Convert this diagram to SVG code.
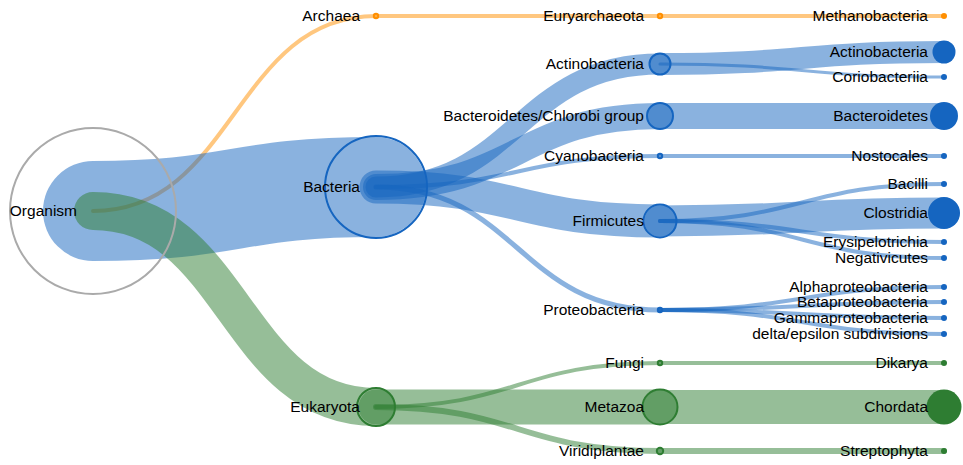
<svg xmlns="http://www.w3.org/2000/svg" width="963" height="465" viewBox="0 0 963 465">
  <style>
    .link { fill: none; stroke-opacity: 0.5; stroke-linecap: round; }
    .arch { stroke: #ff8f00; }
    .bact { stroke: #1565c0; }
    .euk { stroke: #2e7d32; }
    .inner { fill: none; stroke-width: 2; }
    .leaf.bact, .leaf.euk, .leaf.arch { stroke: none; }
    .leaf.bactf { fill: #1565c0; }
    .leaf.eukf { fill: #2e7d32; }
    .leaf.archf { fill: #ff8f00; }
    text { font-family: "Liberation Sans", Arial, Helvetica, sans-serif; font-size: 15.5px; fill: #000; text-anchor: end; }
  </style>
  <rect width="963" height="465" fill="#ffffff"/>

  <g id="links">
    <!-- root to kingdoms -->
    <path class="link arch" stroke-width="4" d="M93,211 C234.5,211 234.5,16 376,16"/>
    <path class="link bact" stroke-width="100" d="M93,211 C234.5,211 234.5,187 376,187"/>
    <path class="link euk" stroke-width="38" d="M93,211 C234.5,211 234.5,407 376,407"/>
    <!-- kingdoms to phyla -->
    <path class="link arch" stroke-width="4" d="M376,16 C518,16 518,16 660,16"/>
    <path class="link bact" stroke-width="21" d="M376,187 C518,187 518,64 660,64"/>
    <path class="link bact" stroke-width="26" d="M376,187 C518,187 518,116 660,116"/>
    <path class="link bact" stroke-width="4" d="M376,187 C518,187 518,156 660,156"/>
    <path class="link bact" stroke-width="33" d="M376,187 C518,187 518,221 660,221"/>
    <path class="link bact" stroke-width="5" d="M376,187 C518,187 518,310 660,310"/>
    <path class="link euk" stroke-width="4" d="M376,407 C518,407 518,363 660,363"/>
    <path class="link euk" stroke-width="35" d="M376,407 C518,407 518,407 660,407"/>
    <path class="link euk" stroke-width="6" d="M376,407 C518,407 518,451 660,451"/>
    <!-- phyla to classes -->
    <path class="link arch" stroke-width="4" d="M660,16 C802,16 802,16 944,16"/>
    <path class="link bact" stroke-width="22" d="M660,64 C802,64 802,52 944,52"/>
    <path class="link bact" stroke-width="3" d="M660,64 C802,64 802,77 944,77"/>
    <path class="link bact" stroke-width="26" d="M660,116 C802,116 802,116 944,116"/>
    <path class="link bact" stroke-width="4" d="M660,156 C802,156 802,156 944,156"/>
    <path class="link bact" stroke-width="4" d="M660,221 C802,221 802,184 944,184"/>
    <path class="link bact" stroke-width="31" d="M660,221 C802,221 802,213 944,213"/>
    <path class="link bact" stroke-width="4" d="M660,221 C802,221 802,242 944,242"/>
    <path class="link bact" stroke-width="4" d="M660,221 C802,221 802,258 944,258"/>
    <path class="link bact" stroke-width="4" d="M660,310 C802,310 802,287 944,287"/>
    <path class="link bact" stroke-width="4" d="M660,310 C802,310 802,302 944,302"/>
    <path class="link bact" stroke-width="4" d="M660,310 C802,310 802,318 944,318"/>
    <path class="link bact" stroke-width="4" d="M660,310 C802,310 802,334 944,334"/>
    <path class="link euk" stroke-width="4" d="M660,363 C802,363 802,363 944,363"/>
    <path class="link euk" stroke-width="34" d="M660,407 C802,407 802,407 944,407"/>
    <path class="link euk" stroke-width="6" d="M660,451 C802,451 802,451 944,451"/>
  </g>

  <g id="node-organism">
    <circle cx="93" cy="211" r="83" fill="none" stroke="#aaaaaa" stroke-width="2"/>
    <text x="77" y="211" dy="0.35em">Organism</text>
  </g>

  <g id="node-archaea">
    <circle class="inner" cx="376" cy="16" r="2.2" stroke="#ff8f00"/>
    <text x="360" y="16" dy="0.35em">Archaea</text>
  </g>
  <g id="node-euryarchaeota">
    <circle class="inner" cx="660" cy="16" r="2.2" stroke="#ff8f00"/>
    <text x="644" y="16" dy="0.35em">Euryarchaeota</text>
  </g>
  <g id="node-methanobacteria">
    <circle cx="944" cy="16" r="3" fill="#ff8f00"/>
    <text x="928" y="16" dy="0.35em">Methanobacteria</text>
  </g>

  <g id="node-bacteria">
    <circle class="inner" cx="376" cy="187" r="51" stroke="#1565c0"/>
    <text x="360" y="187" dy="0.35em">Bacteria</text>
  </g>
  <g id="node-actinobacteria-phylum">
    <circle class="inner" cx="660" cy="64" r="10.5" stroke="#1565c0"/>
    <text x="644" y="64" dy="0.35em">Actinobacteria</text>
  </g>
  <g id="node-bacteroidetes-chlorobi">
    <circle class="inner" cx="660" cy="116" r="13" stroke="#1565c0"/>
    <text x="644" y="116" dy="0.35em">Bacteroidetes/Chlorobi group</text>
  </g>
  <g id="node-cyanobacteria">
    <circle class="inner" cx="660" cy="156" r="2.2" stroke="#1565c0"/>
    <text x="644" y="156" dy="0.35em">Cyanobacteria</text>
  </g>
  <g id="node-firmicutes">
    <circle class="inner" cx="660" cy="221" r="16.5" stroke="#1565c0"/>
    <text x="644" y="221" dy="0.35em">Firmicutes</text>
  </g>
  <g id="node-proteobacteria">
    <circle class="inner" cx="660" cy="310" r="2.2" stroke="#1565c0"/>
    <text x="644" y="310" dy="0.35em">Proteobacteria</text>
  </g>

  <g id="node-actinobacteria-class">
    <circle cx="944" cy="52" r="11.5" fill="#1565c0"/>
    <text x="928" y="52" dy="0.35em">Actinobacteria</text>
  </g>
  <g id="node-coriobacteriia">
    <circle cx="944" cy="77" r="3" fill="#1565c0"/>
    <text x="928" y="77" dy="0.35em">Coriobacteriia</text>
  </g>
  <g id="node-bacteroidetes">
    <circle cx="944" cy="116" r="14" fill="#1565c0"/>
    <text x="928" y="116" dy="0.35em">Bacteroidetes</text>
  </g>
  <g id="node-nostocales">
    <circle cx="944" cy="156" r="3" fill="#1565c0"/>
    <text x="928" y="156" dy="0.35em">Nostocales</text>
  </g>
  <g id="node-bacilli">
    <circle cx="944" cy="184" r="3" fill="#1565c0"/>
    <text x="928" y="184" dy="0.35em">Bacilli</text>
  </g>
  <g id="node-clostridia">
    <circle cx="944" cy="213" r="16" fill="#1565c0"/>
    <text x="928" y="213" dy="0.35em">Clostridia</text>
  </g>
  <g id="node-erysipelotrichia">
    <circle cx="944" cy="242" r="3" fill="#1565c0"/>
    <text x="928" y="242" dy="0.35em">Erysipelotrichia</text>
  </g>
  <g id="node-negativicutes">
    <circle cx="944" cy="258" r="3" fill="#1565c0"/>
    <text x="928" y="258" dy="0.35em">Negativicutes</text>
  </g>
  <g id="node-alphaproteobacteria">
    <circle cx="944" cy="287" r="3" fill="#1565c0"/>
    <text x="928" y="287" dy="0.35em">Alphaproteobacteria</text>
  </g>
  <g id="node-betaproteobacteria">
    <circle cx="944" cy="302" r="3" fill="#1565c0"/>
    <text x="928" y="302" dy="0.35em">Betaproteobacteria</text>
  </g>
  <g id="node-gammaproteobacteria">
    <circle cx="944" cy="318" r="3" fill="#1565c0"/>
    <text x="928" y="318" dy="0.35em">Gammaproteobacteria</text>
  </g>
  <g id="node-delta-epsilon">
    <circle cx="944" cy="334" r="3" fill="#1565c0"/>
    <text x="928" y="334" dy="0.35em">delta/epsilon subdivisions</text>
  </g>

  <g id="node-eukaryota">
    <circle class="inner" cx="376" cy="407" r="19" stroke="#2e7d32"/>
    <text x="360" y="407" dy="0.35em">Eukaryota</text>
  </g>
  <g id="node-fungi">
    <circle class="inner" cx="660" cy="363" r="2.2" stroke="#2e7d32"/>
    <text x="644" y="363" dy="0.35em">Fungi</text>
  </g>
  <g id="node-metazoa">
    <circle class="inner" cx="660" cy="407" r="17.5" stroke="#2e7d32"/>
    <text x="644" y="407" dy="0.35em">Metazoa</text>
  </g>
  <g id="node-viridiplantae">
    <circle class="inner" cx="660" cy="451" r="3.2" stroke="#2e7d32"/>
    <text x="644" y="451" dy="0.35em">Viridiplantae</text>
  </g>
  <g id="node-dikarya">
    <circle cx="944" cy="363" r="3" fill="#2e7d32"/>
    <text x="928" y="363" dy="0.35em">Dikarya</text>
  </g>
  <g id="node-chordata">
    <circle cx="944" cy="407" r="17.5" fill="#2e7d32"/>
    <text x="928" y="407" dy="0.35em">Chordata</text>
  </g>
  <g id="node-streptophyta">
    <circle cx="944" cy="451" r="3" fill="#2e7d32"/>
    <text x="928" y="451" dy="0.35em">Streptophyta</text>
  </g>
</svg>
